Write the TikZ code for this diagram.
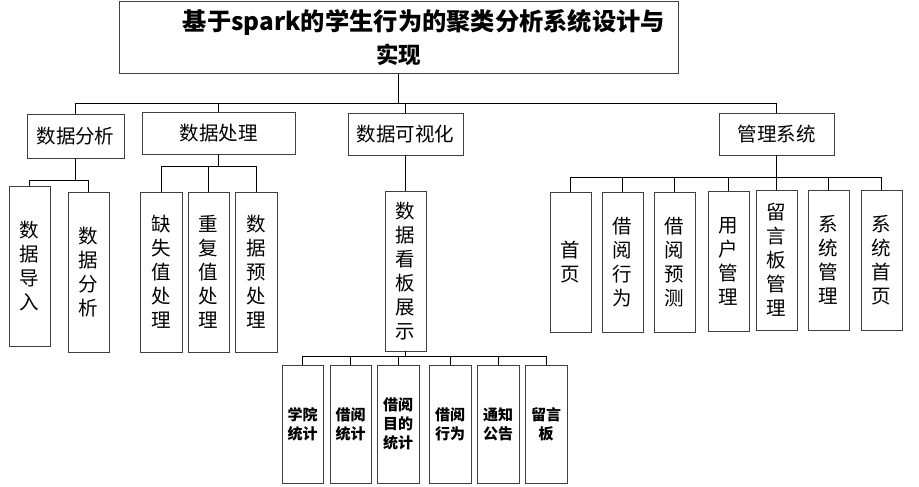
\documentclass[tikz,border=0pt]{standalone}
\usepackage{graphicx}
\usepackage{fontspec}
\setmainfont{Noto Sans CJK SC}
\definecolor{boxgray}{RGB}{64,64,64}
\begin{document}
\begin{tikzpicture}[x=1pt,y=-1pt,
  box/.style={draw=boxgray, line width=0.9pt, inner sep=0pt, fill=white, align=center, text=black},
  sz/.style 2 args={minimum width=#1pt, minimum height=#2pt},
  titlebox/.style={box, font=\fontsize{22.5}{33}\selectfont\bfseries},
  midbox/.style={box, font=\fontsize{19.5}{24}\selectfont},
  vbox/.style={box, font=\fontsize{19.5}{24}\selectfont},
  smallbox/.style={box, font=\fontsize{15}{19}\selectfont\bfseries},
  conn/.style={draw=black, line width=0.9pt}]
\useasboundingbox (0,0) rectangle (919,487);

% title
\node[titlebox, sz={559}{72}] (title) at (398.5,37.5) {\hspace*{51pt}\resizebox{482pt}{!}{基于spark的学生行为的聚类分析系统设计与}\\实现};

% level 2
\node[midbox, sz={97}{44}]  (l2a) at (75.5,136) {数据分析};
\node[midbox, sz={153}{42}] (l2b) at (218.5,133) {数据处理};
\node[midbox, sz={115}{42}] (l2c) at (405.5,134) {数据可视化};
\node[midbox, sz={115}{42}] (l2d) at (776.5,134) {管理系统};

% leaves under 数据分析
\node[vbox, sz={41}{160}] (a1) at (29.5,266) {数\\据\\导\\入};
\node[vbox, sz={41}{160}] (a2) at (88.5,272) {数\\据\\分\\析};

% leaves under 数据处理
\node[vbox, sz={42}{160}] (b1) at (161,272) {缺\\失\\值\\处\\理};
\node[vbox, sz={41}{160}] (b2) at (208.5,272) {重\\复\\值\\处\\理};
\node[vbox, sz={42}{160}] (b3) at (256,272) {数\\据\\预\\处\\理};

% under 数据可视化
\node[vbox, sz={41}{160}] (c1) at (405.5,271) {数\\据\\看\\板\\展\\示};

% bottom row
\node[smallbox, sz={41}{118}] (e1) at (302.5,424) {学院\\统计};
\node[smallbox, sz={41}{118}] (e2) at (350.5,424) {借阅\\统计};
\node[smallbox, sz={42}{118}] (e3) at (398,424) {借阅\\目的\\统计};
\node[smallbox, sz={42}{118}] (e4) at (450,424) {借阅\\行为};
\node[smallbox, sz={42}{118}] (e5) at (498,424) {通知\\公告};
\node[smallbox, sz={42}{118}] (e6) at (546,424) {留言\\板};

% under 管理系统
\node[vbox, sz={41}{140}] (d1) at (570.5,262) {首\\页};
\node[vbox, sz={41}{140}] (d2) at (622.5,262) {借\\阅\\行\\为};
\node[vbox, sz={41}{140}] (d3) at (674.5,262) {借\\阅\\预\\测};
\node[vbox, sz={41}{140}] (d4) at (728.5,261) {用\\户\\管\\理};
\node[vbox, sz={41}{140}] (d5) at (776.5,260) {留\\言\\板\\管\\理};
\node[vbox, sz={41}{140}] (d6) at (828.5,260) {系\\统\\管\\理};
\node[vbox, sz={41}{140}] (d7) at (881.5,260) {系\\统\\首\\页};

% bus coordinates
\coordinate (busT) at (398.5,103);
\coordinate (busA) at (75.5,180);
\coordinate (busB) at (218.5,166);
\coordinate (busD) at (776.5,177);
\coordinate (busE) at (405.5,356.5);

% connectors
\draw[conn] (title.south) -- (busT);
\foreach \c in {l2a,l2b,l2c,l2d} \draw[conn] (\c.north) |- (busT);

\draw[conn] (l2a.south) -- (busA);
\foreach \c in {a1,a2} \draw[conn] (\c.north) |- (busA);

\draw[conn] (l2b.south) -- (busB);
\foreach \c in {b1,b2,b3} \draw[conn] (\c.north) |- (busB);

\draw[conn] (l2c.south) -- (c1.north);

\draw[conn] (c1.south) -- (busE);
\foreach \c in {e1,e2,e3,e4,e5,e6} \draw[conn] (\c.north) |- (busE);

\draw[conn] (l2d.south) -- (busD);
\foreach \c in {d1,d2,d3,d4,d5,d6,d7} \draw[conn] (\c.north) |- (busD);
\end{tikzpicture}
\end{document}
